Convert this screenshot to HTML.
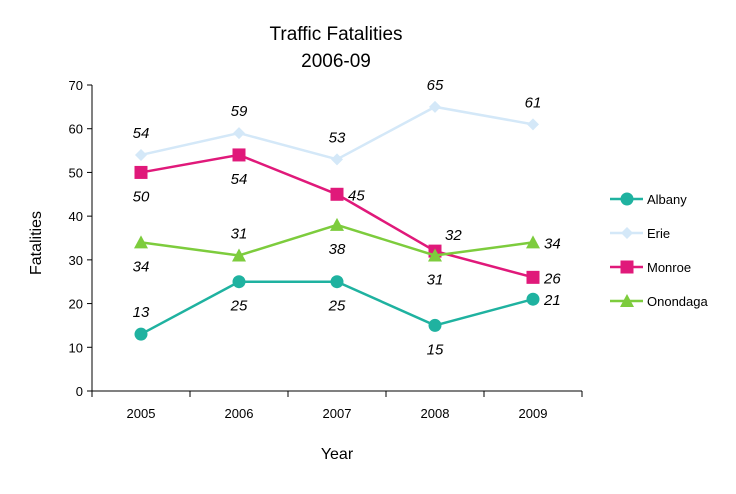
<!DOCTYPE html>
<html><head><meta charset="utf-8"><style>
body{margin:0;background:#fff;font-family:"Liberation Sans",Arial,sans-serif;}
svg text{font-family:"Liberation Sans",Arial,sans-serif;}
</style></head><body>
<svg id="c" width="736" height="489">
<text x="336" y="40" font-size="19" text-anchor="middle">Traffic Fatalities</text>
<text x="336" y="67" font-size="19" text-anchor="middle">2006-09</text>
<text x="337" y="459" font-size="16" text-anchor="middle">Year</text>
<text transform="translate(41,243) rotate(-90)" font-size="16" text-anchor="middle">Fatalities</text>
<g id="axes"></g><g id="series"></g><g id="legend"></g>
</svg>
<script>
const categories=["2005","2006","2007","2008","2009"];
const yTicks=[0,10,20,30,40,50,60,70];
const seriesNames=["Albany","Erie","Monroe","Onondaga"];
const albany=[13,25,25,15,21];
const erie=[54,59,53,65,61];
const monroe=[50,54,45,32,26];
const onondaga=[34,31,38,31,34];
const albanyLabelPos=["a","b","b","b","r"];
const erieLabelPos=["a","a","a","a","a"];
const monroeLabelPos=["b","b","r","ar","r"];
const onondagaLabelPos=["b","a","b","b","r"];
const NS="http://www.w3.org/2000/svg";
const x0=92,x1=582,yBase=391,yTop=85;
const band=(x1-x0)/categories.length;
const xs=i=>x0+band*(i+0.5);
const ys=v=>yBase-(v/70)*(yBase-yTop);
function mk(t,a,p){const e=document.createElementNS(NS,t);for(const k in a)e.setAttribute(k,a[k]);p.appendChild(e);return e;}
const ax=document.getElementById('axes');
let yl=mk('line',{x1:x0,y1:yTop,x2:x0,y2:yBase,stroke:'#000'},ax);

let xl=mk('line',{x1:x0,y1:yBase,x2:x1,y2:yBase,stroke:'#000'},ax);

yTicks.forEach(v=>{
 mk('line',{x1:x0-5,x2:x0,y1:ys(v),y2:ys(v),stroke:'#000'},ax);
 const t=mk('text',{x:x0-9,y:ys(v)+5,'font-size':13,'text-anchor':'end'},ax);t.textContent=v;
 
});
for(let i=0;i<=categories.length;i++)mk('line',{x1:x0+band*i,x2:x0+band*i,y1:yBase,y2:yBase+6,stroke:'#000'},ax);
categories.forEach((c,i)=>{
 const t=mk('text',{x:xs(i),y:yBase+27,'font-size':13,'text-anchor':'middle'},ax);t.textContent=c;
 
});
const colors=["#1fb2a0","#d4e8f8","#e0197a","#7dcc3d"];
const data=[albany,erie,monroe,onondaga];
const lpos=[albanyLabelPos,erieLabelPos,monroeLabelPos,onondagaLabelPos];
const shapes=["circle","diamond","square","triangle"];
function marker(s,x,y,col,g){
 if(s==="circle")return mk('circle',{cx:x,cy:y,r:6.5,fill:col},g);
 if(s==="square")return mk('rect',{x:x-6.5,y:y-6.5,width:13,height:13,fill:col},g);
 if(s==="diamond")return mk('polygon',{points:`${x},${y-6} ${x+6},${y} ${x},${y+6} ${x-6},${y}`,fill:col},g);
 return mk('polygon',{points:`${x},${y-7} ${x+7},${y+6} ${x-7},${y+6}`,fill:col},g);
}
const sg=document.getElementById('series');
data.forEach((d,si)=>{
 const g=mk('g',{},sg);
 
 
 const p=mk('polyline',{points:d.map((v,i)=>xs(i)+','+ys(v)).join(' '),fill:'none',stroke:colors[si],'stroke-width':2.5},g);
 
 
 d.forEach((v,i)=>{
  const m=marker(shapes[si],xs(i),ys(v),colors[si],g);
  
  
  const pos=lpos[si][i];
  let lx=xs(i),ly=ys(v),anc='middle';
  if(pos==='a')ly-=17;else if(pos==='b')ly+=29;
  else if(pos==='ar'){lx+=10;ly-=11;anc='start';}
  else{lx+=11;ly+=6;anc='start';}
  const t=mk('text',{x:lx,y:ly,'font-size':15,'font-style':'italic','text-anchor':anc},g);
  t.textContent=v;
  
  
 });
});
const lg=document.getElementById('legend');
seriesNames.forEach((n,si)=>{
 const y=199+si*34;
 const g=mk('g',{},lg);
 
 
 mk('line',{x1:610,x2:643,y1:y,y2:y,stroke:colors[si],'stroke-width':2.5},g);
 marker(shapes[si],627,y,colors[si],g);
 const t=mk('text',{x:647,y:y+5,'font-size':13},g);t.textContent=n;
});
</script>
</body></html>
